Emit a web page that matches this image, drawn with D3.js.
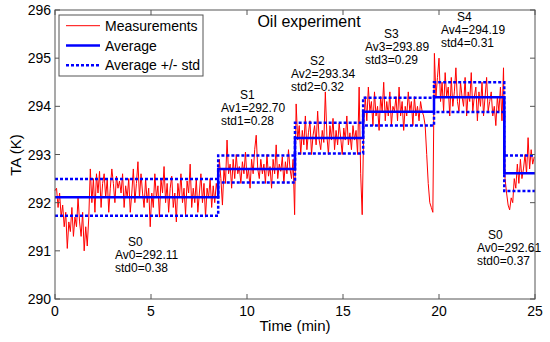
<!DOCTYPE html>
<html>
<head>
<meta charset="utf-8">
<script src="https://cdn.jsdelivr.net/npm/d3@7"></script>
<style>
  html, body { margin: 0; padding: 0; background: #fff; }
  svg { display: block; font-family: "Liberation Sans", Arial, Helvetica, sans-serif; }
</style>
</head>
<body>
<svg id="chart" width="550" height="342"></svg>
<script>
// ---------------- DATA ----------------
const xTicks = [0, 5, 10, 15, 20, 25];
const yTicks = [290, 291, 292, 293, 294, 295, 296];
const sampleStep = 0.08; // minutes between samples

// Stage boundaries (min) and statistics
const stageNames = ["S0", "S1", "S2", "S3", "S4", "S0"];
const stageIds   = [0, 1, 2, 3, 4, 0];
const stageStart = [0, 8.5, 12.5, 16.05, 19.74, 23.4];
const timeEnd = 25;
const stageAvg = [292.11, 292.70, 293.34, 293.89, 294.19, 292.61];
const stageStd = [0.38, 0.28, 0.32, 0.29, 0.31, 0.37];

// Measurements (K) read per stage
const measS0 = [292.25, 292.3, 291.9, 292.2, 291.7, 291.95, 291.5, 291.8, 291.05, 291.6, 291.4, 291.9, 291.3, 291.7, 291.5, 292.1, 291.6, 291.3, 291.8, 291.0, 291.5, 291.1, 291.7,
  292.7, 292.0, 292.5, 291.8, 292.6, 292.2, 292.65, 291.9, 292.4, 292.6,
  292.1, 292.5, 291.8, 292.3, 292.7, 292.4, 292.0, 292.55, 292.3, 292.45,
  292.2, 292.6, 291.9, 292.35, 292.1, 292.5, 291.8, 292.2, 292.7, 292.0,
  292.4, 292.85, 292.1, 292.6, 292.2, 291.9, 292.5, 292.0, 292.3, 291.5,
  292.2, 291.9, 292.6, 292.1, 292.35, 291.7, 292.5, 292.2, 292.75, 292.0,
  292.4, 291.8, 292.3, 292.55, 291.9, 292.2, 291.6, 292.4, 292.1, 292.6,
  292.0, 292.3, 291.75, 292.45, 292.2, 292.8, 291.9, 292.3, 292.0, 292.5,
  291.8, 292.2, 292.6, 292.0, 292.4, 291.7, 292.3, 292.1, 292.5, 291.9,
  292.35, 292.0, 292.4, 292.2];
const measS1 = [292.9, 292.5, 291.95, 292.7, 292.4, 293.3, 292.6, 292.8, 292.3, 292.9,
  292.5, 293.0, 292.6, 292.75, 292.4, 292.85, 292.6, 293.05, 292.5, 292.7,
  292.3, 292.9, 292.6, 293.1, 293.4, 292.7, 292.5, 292.9, 292.6, 292.8,
  292.4, 293.0, 292.55, 292.75, 292.3, 292.9, 292.6, 293.2, 292.5, 292.8,
  292.65, 292.95, 292.4, 292.85, 292.6, 293.1, 292.7, 292.5, 292.9, 291.75];
const measS2 = [294.05, 293.3, 293.6, 293.0, 293.5, 293.2, 293.8, 293.1, 293.45, 293.7,
  293.0, 293.4, 293.6, 293.2, 293.9, 293.3, 293.1, 293.5, 293.25, 294.3,
  293.4, 293.0, 293.6, 293.3, 293.75, 293.1, 293.5, 293.2, 293.65, 293.35,
  293.0, 293.55, 293.3, 293.8, 293.2, 293.45, 293.1, 293.6, 293.3, 293.5,
  293.0, 294.4, 292.6, 291.75];
const measS3 = [293.6, 294.2, 293.7, 294.4, 293.9, 294.1, 293.6, 294.3, 293.8, 294.0,
  293.5, 294.2, 293.9, 294.5, 293.7, 294.1, 293.8, 294.3, 293.6, 294.0,
  293.9, 294.2, 293.7, 294.4, 293.8, 294.1, 293.5, 294.0, 293.8, 294.3,
  293.9, 294.1, 293.6, 294.2, 293.8, 294.0, 293.7, 294.1, 293.9, 293.8,
  293.6, 293.0, 292.4, 292.0, 291.9, 291.8];
const measS4 = [295.1, 294.2, 294.6, 295.0, 294.1, 294.5, 293.9, 294.7, 294.2, 294.4,
  293.8, 294.6, 294.0, 294.3, 294.8, 294.1, 293.9, 294.5, 294.2, 294.0,
  294.6, 293.8, 294.3, 294.1, 294.7, 293.9, 294.2, 294.4, 293.7, 294.3,
  294.0, 294.5, 293.8, 294.2, 294.6, 293.9, 294.1, 294.3, 293.8, 294.0,
  293.6, 294.2, 293.9, 294.4, 293.7, 294.8];
const measS0b = [292.5, 292.2, 291.95, 291.85, 292.1, 292.0, 292.5, 292.3, 292.8, 292.4,
  292.9, 292.5, 292.7, 293.0, 292.6, 293.35, 292.7, 293.1, 292.8, 292.95];

// Annotation positions (left x, top-line baseline y) in pixels
const annotPos = [[115, 246], [221, 99], [291, 65], [365, 38], [441, 21], [477, 239]];
const annotSOffset = [13, 19, 19, 19, 16, 11];

// ---------------- CHART ----------------
const svg = d3.select("#chart");
const L = 55, R = 535, T = 10, B = 299;
const x = d3.scaleLinear().domain([0, 25]).range([L, R]);
const y = d3.scaleLinear().domain([290, 296]).range([B, T]);
const axisColor = "#555";

const measurements = [].concat(measS0, measS1, measS2, measS3, measS4, measS0b)
  .map((v, i) => ({ t: i * sampleStep, v }));

// Measurements line
svg.append("path")
  .datum(measurements)
  .attr("fill", "none")
  .attr("stroke", "#ff0000")
  .attr("stroke-width", 1)
  .attr("stroke-linejoin", "round")
  .attr("d", d3.line().x(d => x(d.t)).y(d => y(d.v)));

// Step lines
function stepData(valFn) {
  const pts = stageStart.map((s, i) => ({ t: s, v: valFn(i) }));
  pts.push({ t: timeEnd, v: valFn(stageStart.length - 1) });
  return pts;
}
const stepLine = d3.line().x(d => x(d.t)).y(d => y(d.v)).curve(d3.curveStepAfter);

[stepData(i => stageAvg[i] + stageStd[i]), stepData(i => stageAvg[i] - stageStd[i])].forEach(data => {
  svg.append("path").datum(data)
    .attr("fill", "none").attr("stroke", "#0000ff")
    .attr("stroke-width", 2.5).attr("stroke-dasharray", "3,2")
    .attr("d", stepLine);
});
svg.append("path").datum(stepData(i => stageAvg[i]))
  .attr("fill", "none").attr("stroke", "#0000ff")
  .attr("stroke-width", 2.5)
  .attr("d", stepLine);

// Axes (box with inside ticks on all sides)
const tickLen = 5;
const gAx = svg.append("g").attr("stroke", axisColor).attr("stroke-width", 1);
gAx.append("rect").attr("x", L).attr("y", T).attr("width", R - L).attr("height", B - T).attr("fill", "none");
xTicks.forEach(t => {
  gAx.append("line").attr("x1", x(t)).attr("x2", x(t)).attr("y1", B).attr("y2", B - tickLen);
  gAx.append("line").attr("x1", x(t)).attr("x2", x(t)).attr("y1", T).attr("y2", T + tickLen);
});
yTicks.forEach(t => {
  gAx.append("line").attr("x1", L).attr("x2", L + tickLen).attr("y1", y(t)).attr("y2", y(t));
  gAx.append("line").attr("x1", R).attr("x2", R - tickLen).attr("y1", y(t)).attr("y2", y(t));
});

// Tick labels
svg.append("g").selectAll("text").data(xTicks).join("text")
  .attr("x", d => x(d)).attr("y", 316)
  .attr("text-anchor", "middle").attr("font-size", 14).attr("fill", "#000")
  .text(d => d);
svg.append("g").selectAll("text").data(yTicks).join("text")
  .attr("x", 51).attr("y", d => y(d)).attr("dy", "0.36em")
  .attr("text-anchor", "end").attr("font-size", 14).attr("fill", "#000")
  .text(d => d);

// Axis titles
svg.append("text").attr("x", 295).attr("y", 331).attr("text-anchor", "middle")
  .attr("font-size", 15).text("Time (min)");
svg.append("text").attr("transform", "translate(21,155) rotate(-90)")
  .attr("text-anchor", "middle").attr("font-size", 15).text("TA (K)");

// Title
svg.append("text").attr("x", 309).attr("y", 27).attr("text-anchor", "middle")
  .attr("font-size", 16).text("Oil experiment");

// Stage annotations
const annot = svg.append("g").attr("font-size", 12).attr("fill", "#000");
stageNames.forEach((name, i) => {
  const [ax, ay] = annotPos[i];
  annot.append("text").attr("x", ax + annotSOffset[i]).attr("y", ay).text(name);
  annot.append("text").attr("x", ax).attr("y", ay + 13)
    .text(`Av${stageIds[i]}=${stageAvg[i].toFixed(2)}`);
  annot.append("text").attr("x", ax).attr("y", ay + 26)
    .text(`std${stageIds[i]}=${stageStd[i].toFixed(2)}`);
});

// Legend
const legendItems = [
  { label: "Measurements", width: 1, dash: null },
  { label: "Average", width: 2.5, dash: null },
  { label: "Average +/- std", width: 2.5, dash: "3,2" }
];
const lg = svg.append("g");
lg.append("rect").attr("x", 59).attr("y", 15).attr("width", 144).attr("height", 61)
  .attr("fill", "#fff").attr("stroke", axisColor).attr("stroke-width", 1);
legendItems.forEach((it, i) => {
  const cy = 25.7 + i * 19.8;
  lg.append("line").attr("x1", 66).attr("x2", 100).attr("y1", cy).attr("y2", cy)
    .attr("stroke", i === 0 ? "#ff0000" : "#0000ff").attr("stroke-width", it.width)
    .attr("stroke-dasharray", it.dash);
  lg.append("text").attr("x", 105).attr("y", cy + 5).attr("font-size", 14).text(it.label);
});
</script>
</body>
</html>
